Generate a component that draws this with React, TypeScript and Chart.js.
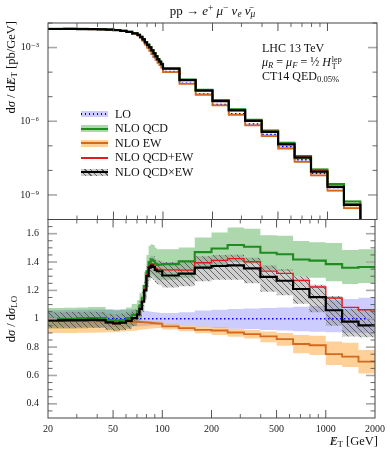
import React, { useEffect, useRef } from 'react';
import { Chart, registerables } from 'chart.js';

Chart.register(...registerables);

// ---------- data ----------
const BIN_EDGES = [20, 25, 30, 35, 40, 45, 50, 55, 60, 65, 70, 72.5, 75, 77.5, 80, 82.5, 85, 87.5, 90, 92.5, 95, 97.5, 100, 126, 158, 200, 251, 316, 398, 501, 631, 794, 1000, 1259, 1585, 2000];

// LO differential cross section [pb/GeV]
const LO_XSEC = [5.78e-3, 5.77e-3, 5.74e-3, 5.68e-3, 5.58e-3, 5.49e-3, 5.28e-3, 4.88e-3, 4.39e-3, 3.74e-3, 3.17e-3, 2.53e-3, 1.92e-3, 1.35e-3, 9.9e-4, 7.49e-4, 5.6e-4, 4.27e-4, 3.27e-4, 2.49e-4, 1.98e-4, 1.57e-4,
  1.05e-4, 3.56e-5, 1.3e-5, 4.83e-6, 2.0e-6, 7.64e-7, 2.86e-7, 9.1e-8, 2.71e-8, 7.7e-9, 2.0e-9, 4.0e-10, 5e-11];

// ratios to LO
const LO_RATIO = [1, 1, 1, 1, 1, 1, 1, 1, 1, 1, 1, 1, 1, 1, 1, 1, 1, 1, 1, 1, 1, 1, 1, 1, 1, 1, 1, 1, 1, 1, 1, 1, 1, 1, 1];
const LO_UP = [1.06, 1.062, 1.064, 1.065, 1.066, 1.066, 1.066, 1.066, 1.065, 1.064, 1.062, 1.06, 1.058, 1.056, 1.054, 1.052, 1.05, 1.048, 1.046, 1.044, 1.042, 1.04,
  1.04, 1.045, 1.058, 1.064, 1.068, 1.072, 1.076, 1.08, 1.085, 1.09, 1.13, 1.14, 1.148];
const LO_DN = [0.945, 0.944, 0.943, 0.942, 0.942, 0.942, 0.942, 0.943, 0.944, 0.945, 0.946, 0.947, 0.948, 0.95, 0.951, 0.952, 0.953, 0.954, 0.955, 0.956, 0.957, 0.958,
  0.957, 0.953, 0.943, 0.936, 0.93, 0.926, 0.921, 0.917, 0.912, 0.908, 0.905, 0.902, 0.9];

const QCD_RATIO = [1.0, 1.0, 1.003, 1.005, 1.005, 0.99, 0.985, 0.99, 1.005, 1.027, 1.053, 1.095, 1.148, 1.231, 1.335, 1.4, 1.418, 1.409, 1.389, 1.38, 1.382, 1.383,
  1.385, 1.405, 1.47, 1.495, 1.52, 1.508, 1.465, 1.455, 1.418, 1.41, 1.385, 1.36, 1.365];
const QCD_UP = [1.075, 1.077, 1.08, 1.082, 1.082, 1.066, 1.06, 1.066, 1.08, 1.104, 1.13, 1.18, 1.24, 1.33, 1.45, 1.515, 1.525, 1.52, 1.5, 1.49, 1.49, 1.49,
  1.49, 1.502, 1.573, 1.608, 1.644, 1.635, 1.589, 1.585, 1.549, 1.54, 1.535, 1.485, 1.49];
const QCD_DN = [0.93, 0.93, 0.932, 0.934, 0.934, 0.92, 0.915, 0.92, 0.93, 0.95, 0.97, 1.01, 1.06, 1.14, 1.24, 1.29, 1.31, 1.3, 1.285, 1.275, 1.275, 1.275,
  1.275, 1.29, 1.35, 1.375, 1.4, 1.39, 1.345, 1.335, 1.3, 1.29, 1.265, 1.245, 1.253];

const EW_RATIO = [0.983, 0.983, 0.983, 0.982, 0.982, 0.981, 0.981, 0.98, 0.98, 0.979, 0.978, 0.977, 0.976, 0.975, 0.974, 0.972, 0.97, 0.969, 0.968, 0.967, 0.966, 0.965,
  0.946, 0.934, 0.922, 0.917, 0.903, 0.891, 0.875, 0.856, 0.822, 0.813, 0.751, 0.733, 0.697];
const EW_UP = [1.0, 1.0, 1.0, 0.999, 0.998, 0.997, 0.996, 0.995, 0.994, 0.992, 0.99, 0.989, 0.988, 0.987, 0.986, 0.985, 0.984, 0.983, 0.982, 0.981, 0.98, 0.978,
  0.965, 0.955, 0.945, 0.941, 0.93, 0.92, 0.91, 0.9, 0.886, 0.88, 0.84, 0.83, 0.78];
const EW_DN = [0.9, 0.9, 0.901, 0.902, 0.903, 0.905, 0.907, 0.91, 0.913, 0.916, 0.92, 0.922, 0.924, 0.926, 0.928, 0.93, 0.931, 0.932, 0.933, 0.934, 0.934, 0.935,
  0.925, 0.912, 0.898, 0.886, 0.873, 0.86, 0.835, 0.81, 0.756, 0.745, 0.673, 0.66, 0.614];

const SUM_RATIO = [0.983, 0.983, 0.986, 0.987, 0.987, 0.971, 0.966, 0.97, 0.983, 1.004, 1.028, 1.072, 1.126, 1.21, 1.314, 1.372, 1.388, 1.378, 1.357, 1.347, 1.348, 1.348,
  1.345, 1.343, 1.395, 1.412, 1.424, 1.402, 1.336, 1.32, 1.27, 1.224, 1.146, 1.08, 1.064];

const PROD_RATIO = [0.988, 0.99, 0.99, 0.992, 0.99, 0.975, 0.968, 0.972, 0.985, 1.005, 1.03, 1.07, 1.12, 1.2, 1.3, 1.36, 1.375, 1.365, 1.345, 1.335, 1.335, 1.335,
  1.305, 1.318, 1.36, 1.372, 1.376, 1.355, 1.295, 1.268, 1.21, 1.153, 1.06, 0.98, 0.953];
const PROD_UP = [1.045, 1.047, 1.048, 1.05, 1.048, 1.035, 1.03, 1.035, 1.045, 1.065, 1.09, 1.135, 1.19, 1.27, 1.37, 1.43, 1.445, 1.44, 1.42, 1.41, 1.41, 1.405,
  1.4, 1.41, 1.44, 1.45, 1.452, 1.43, 1.375, 1.35, 1.3, 1.24, 1.16, 1.07, 1.064];
const PROD_DN = [0.935, 0.935, 0.936, 0.937, 0.936, 0.922, 0.915, 0.92, 0.93, 0.948, 0.97, 1.005, 1.05, 1.13, 1.22, 1.27, 1.285, 1.275, 1.255, 1.245, 1.24, 1.235,
  1.22, 1.23, 1.265, 1.275, 1.275, 1.25, 1.19, 1.165, 1.105, 1.045, 0.95, 0.875, 0.87];

// axes
const X_TICKS = [20, 50, 100, 200, 500, 1000, 2000];
const X_TICK_LABELS = ['20', '50', '100', '200', '500', '1000', '2000'];
const X_MAJOR = [50, 100, 200, 500, 1000];
const X_MINOR = [30, 40, 60, 70, 80, 90, 300, 400, 600, 700, 800, 900];
const TOP_TICKS = [1e-9, 1e-6, 1e-3];
const TOP_TICK_LABELS = ['10⁻⁹', '10⁻⁶', '10⁻³'];
const TOP_EXP = [-10, -9, -8, -7, -6, -5, -4, -3, -2];
const RATIO_TICKS = [0.4, 0.6, 0.8, 1, 1.2, 1.4, 1.6];
const RATIO_TICK_LABELS = ['0.4', '0.6', '0.8', '1', '1.2', '1.4', '1.6'];
const RATIO_MINOR = [0.35, 0.45, 0.5, 0.55, 0.65, 0.7, 0.75, 0.85, 0.9, 0.95, 1.05, 1.1, 1.15, 1.25, 1.3, 1.35, 1.45, 1.5, 1.55, 1.65];

const COLORS = {
  lo: '#0000ff', loBand: 'rgba(0,0,255,0.2)',
  qcd: '#1f8c1f', qcdBand: 'rgba(40,150,40,0.38)',
  ew: '#d2691e', ewBand: 'rgba(255,140,0,0.4)',
  sum: '#e41a1c', prod: '#000000',
};

const FONT = '"Liberation Serif", "DejaVu Serif", serif';

// ---------- helpers ----------
function hist(vals: number[], scale?: number[]) {
  const pts = vals.map((v, i) => ({ x: BIN_EDGES[i], y: scale ? v * scale[i] : v }));
  pts.push({ x: BIN_EDGES[BIN_EDGES.length - 1], y: pts[pts.length - 1].y });
  return pts;
}

function makeHatch(): any {
  const c = document.createElement('canvas');
  c.width = 6; c.height = 6;
  const g = c.getContext('2d');
  if (!g) return 'rgba(150,150,150,0.4)';
  g.fillStyle = 'rgba(140,140,140,0.42)';
  g.fillRect(0, 0, 6, 6);
  g.strokeStyle = 'rgba(70,70,70,0.85)';
  g.lineWidth = 0.9;
  g.beginPath();
  g.moveTo(-1, -1); g.lineTo(7, 7);
  g.moveTo(-1, 5); g.lineTo(1, 7);
  g.moveTo(5, -1); g.lineTo(7, 1);
  g.stroke();
  return g.createPattern(c, 'repeat');
}

function buildDatasets(top: boolean, hatch: any) {
  const s = top ? LO_XSEC : undefined;
  const band = (lo: number[], up: number[], color: any, order: number) => [
    { data: hist(lo, s), borderWidth: 0, borderColor: 'rgba(0,0,0,0)', pointRadius: 0, fill: false, stepped: true, order, backgroundColor: color },
    { data: hist(up, s), borderWidth: 0, borderColor: 'rgba(0,0,0,0)', pointRadius: 0, fill: '-1', stepped: true, order, backgroundColor: color },
  ];
  const line = (vals: number[], color: string, width: number, order: number, dash: number[] = []) => ({
    data: hist(vals, s), borderColor: color, borderWidth: width, borderDash: dash, pointRadius: 0, fill: false, stepped: true, order,
    borderCapStyle: 'butt', borderJoinStyle: 'miter',
  });
  return [
    ...band(LO_DN, LO_UP, COLORS.loBand, 14),
    ...band(QCD_DN, QCD_UP, COLORS.qcdBand, 13),
    ...band(EW_DN, EW_UP, COLORS.ewBand, 12),
    ...band(PROD_DN, PROD_UP, hatch, 11),
    line(LO_RATIO, COLORS.lo, 1.5, 5, [1.5, 2.5]),
    line(EW_RATIO, COLORS.ew, 1.8, 4),
    line(QCD_RATIO, COLORS.qcd, 2.1, 3),
    line(SUM_RATIO, COLORS.sum, 1.4, 2),
    line(PROD_RATIO, COLORS.prod, 2.2, 1),
  ];
}

function seg(ctx: CanvasRenderingContext2D, x1: number, y1: number, x2: number, y2: number, color: string, w: number) {
  ctx.beginPath();
  ctx.strokeStyle = color;
  ctx.lineWidth = w;
  ctx.moveTo(x1, y1);
  ctx.lineTo(x2, y2);
  ctx.stroke();
}

function framePlugin(kind: 'top' | 'bottom') {
  return {
    id: 'frame_' + kind,
    afterDraw(chart: any) {
      const { ctx, chartArea: a, scales } = chart;
      const xs = scales.x, ys = scales.y;
      ctx.save();
      X_MAJOR.forEach((v) => {
        const p = xs.getPixelForValue(v);
        seg(ctx, p, a.bottom, p, a.bottom - 8, '#555', 1);
        seg(ctx, p, a.top, p, a.top + 8, '#555', 1);
      });
      X_MINOR.forEach((v) => {
        const p = xs.getPixelForValue(v);
        seg(ctx, p, a.bottom, p, a.bottom - 4, '#555', 0.9);
        seg(ctx, p, a.top, p, a.top + 4, '#555', 0.9);
      });
      const majors = kind === 'top' ? TOP_TICKS : RATIO_TICKS;
      const minors = kind === 'top' ? TOP_EXP.map((e) => Math.pow(10, e)).filter((v) => !TOP_TICKS.some((t) => Math.abs(Math.log10(t) - Math.log10(v)) < 1e-6)) : RATIO_MINOR;
      majors.forEach((v) => {
        const p = ys.getPixelForValue(v);
        seg(ctx, a.left, p, a.left + 9, p, '#a8a8a8', 1.6);
        seg(ctx, a.right, p, a.right - 9, p, '#a8a8a8', 1.6);
      });
      minors.forEach((v) => {
        const p = ys.getPixelForValue(v);
        seg(ctx, a.left, p, a.left + 4.5, p, '#555', 0.9);
        seg(ctx, a.right, p, a.right - 4.5, p, '#555', 0.9);
      });
      ctx.strokeStyle = '#444';
      ctx.lineWidth = 1;
      ctx.strokeRect(a.left, a.top, a.right - a.left, a.bottom - a.top);
      ctx.restore();
    },
  };
}

const baseOptions: any = {
  responsive: false,
  animation: false,
  devicePixelRatio: 1,
  events: [],
  plugins: { legend: { display: false }, tooltip: { enabled: false } },
  elements: { line: { tension: 0 }, point: { radius: 0 } },
};

const TOP_AREA = { top: 23, sep: 219.5, bottom: 418, left: 48, right: 377 };

// ---------- text pieces ----------
const Sub = ({ children }: any) => <span style={{ fontSize: '0.72em', verticalAlign: '-0.25em', lineHeight: 0 }}>{children}</span>;
const Sup = ({ children }: any) => <span style={{ fontSize: '0.72em', verticalAlign: '0.45em', lineHeight: 0 }}>{children}</span>;
const MissE = () => (
  <span style={{ position: 'relative', fontStyle: 'italic', display: 'inline-block' }}>
    E<span style={{ position: 'absolute', left: '0.14em', top: 0, fontStyle: 'normal' }}>/</span>
  </span>
);

const LEGEND_LABELS = ['LO', 'NLO QCD', 'NLO EW', 'NLO QCD+EW', 'NLO QCD×EW'];

function LegendSymbol({ i }: { i: number }) {
  const box: any = { position: 'absolute', left: 0, width: 27 };
  if (i === 0) return (<>
    <div style={{ ...box, top: -3, height: 6, background: COLORS.loBand }} />
    <div style={{ ...box, top: -0.75, height: 1.5, background: `repeating-linear-gradient(90deg, ${COLORS.lo} 0 1.5px, transparent 1.5px 4px)` }} />
  </>);
  if (i === 1) return (<>
    <div style={{ ...box, top: -3.5, height: 7, background: COLORS.qcdBand }} />
    <div style={{ ...box, top: -1, height: 2.2, background: COLORS.qcd }} />
  </>);
  if (i === 2) return (<>
    <div style={{ ...box, top: -3.5, height: 7, background: COLORS.ewBand }} />
    <div style={{ ...box, top: -1, height: 2, background: COLORS.ew }} />
  </>);
  if (i === 3) return <div style={{ ...box, top: -1, height: 2, backgroundColor: COLORS.sum }} />;
  return (<>
    <div style={{ ...box, top: -3.5, height: 7, background: 'repeating-linear-gradient(45deg, rgba(140,140,140,0.42) 0 3px, rgba(70,70,70,0.85) 3px 4px)' }} />
    <div style={{ ...box, top: -1.1, height: 2.3, background: COLORS.prod }} />
  </>);
}

export default function App() {
  const topRef = useRef<HTMLCanvasElement>(null);
  const botRef = useRef<HTMLCanvasElement>(null);

  useEffect(() => {
    const hatch = makeHatch();
    const tickFont = { family: FONT, size: 10 };
    const topChart = new Chart(topRef.current as HTMLCanvasElement, {
      type: 'line',
      data: { datasets: buildDatasets(true, hatch) as any },
      options: {
        ...baseOptions,
        layout: { padding: { left: 0, right: 390 - TOP_AREA.right, top: TOP_AREA.top, bottom: 451 - TOP_AREA.sep } },
        scales: {
          x: { type: 'logarithmic', min: 20, max: 2000, display: false },
          y: {
            type: 'logarithmic', min: 1e-10, max: 1e-2, position: 'left',
            afterFit: (sc: any) => { sc.width = TOP_AREA.left; },
            afterBuildTicks: (sc: any) => { sc.ticks = TOP_TICKS.map((v) => ({ value: v })); },
            grid: { display: false, drawTicks: false },
            border: { display: false },
            ticks: { callback: (_v: any, i: number) => TOP_TICK_LABELS[i], font: tickFont, color: '#222', padding: 9, autoSkip: false },
          },
        },
      } as any,
      plugins: [framePlugin('top')],
    });
    const botChart = new Chart(botRef.current as HTMLCanvasElement, {
      type: 'line',
      data: { datasets: buildDatasets(false, hatch) as any },
      options: {
        ...baseOptions,
        layout: { padding: { left: 0, right: 390 - TOP_AREA.right, top: TOP_AREA.sep, bottom: 0 } },
        scales: {
          x: {
            type: 'logarithmic', min: 20, max: 2000, position: 'bottom',
            afterFit: (sc: any) => { sc.height = 451 - TOP_AREA.bottom; },
            afterBuildTicks: (sc: any) => { sc.ticks = X_TICKS.map((v) => ({ value: v })); },
            grid: { display: false, drawTicks: false },
            border: { display: false },
            ticks: { callback: (_v: any, i: number) => X_TICK_LABELS[i], font: tickFont, color: '#222', padding: 5, autoSkip: false, maxRotation: 0 },
          },
          y: {
            type: 'linear', min: 0.3, max: 1.7, position: 'left',
            afterFit: (sc: any) => { sc.width = TOP_AREA.left; },
            afterBuildTicks: (sc: any) => { sc.ticks = RATIO_TICKS.map((v) => ({ value: v })); },
            grid: { display: false, drawTicks: false },
            border: { display: false },
            ticks: { callback: (_v: any, i: number) => RATIO_TICK_LABELS[i], font: tickFont, color: '#222', padding: 9, autoSkip: false },
          },
        },
      } as any,
      plugins: [framePlugin('bottom')],
    });
    return () => { topChart.destroy(); botChart.destroy(); };
  }, []);

  const canvasStyle: any = { position: 'absolute', left: 0, top: 0, display: 'block' };
  const txt: any = { position: 'absolute', fontFamily: FONT, color: '#111', whiteSpace: 'nowrap' };

  return (
    <div style={{ position: 'absolute', left: 0, top: 0, width: 390, height: 451, background: '#fff', overflow: 'hidden' }}>
      <canvas ref={topRef} width={390} height={451} style={canvasStyle} />
      <canvas ref={botRef} width={390} height={451} style={canvasStyle} />

      {/* title */}
      <div style={{ ...txt, left: 0, width: 425, top: 3, textAlign: 'center', fontSize: 13, lineHeight: '16px' }}>
        pp → <i>e</i><Sup>+</Sup> <i>μ</i><Sup>−</Sup> <i>ν</i><Sub><i>e</i></Sub> <i>ν̄</i><Sub><i>μ</i></Sub>
      </div>

      {/* annotation */}
      <div style={{ ...txt, left: 262, top: 42, fontSize: 12, lineHeight: '13.5px' }}>
        <div>LHC 13 TeV</div>
        <div><i>μ</i><Sub><i>R</i></Sub> = <i>μ</i><Sub><i>F</i></Sub> = ½ <i>H</i>
          <span style={{ display: 'inline-flex', flexDirection: 'column', fontSize: 8, lineHeight: '7px', verticalAlign: '4px', marginLeft: 1 }}><span>lep</span><span>T</span></span>
        </div>
        <div>CT14 QED<Sub>0.05%</Sub></div>
      </div>

      {/* legend */}
      {LEGEND_LABELS.map((lab, i) => {
        const cy = 114 + i * 14.5;
        return (
          <div key={lab}>
            <div style={{ position: 'absolute', left: 81, top: cy, width: 27, height: 0 }}>
              <LegendSymbol i={i} />
            </div>
            <div style={{ ...txt, left: 115, top: cy - 7.5, fontSize: 12, lineHeight: '15px' }}>{lab}</div>
          </div>
        );
      })}

      {/* y title top */}
      <div style={{ position: 'absolute', left: 0, top: TOP_AREA.top - 2, width: 22, height: 196 }}>
        <div style={{ ...txt, left: 0, top: 0, width: 196, height: 22, lineHeight: '22px', fontSize: 12.5, textAlign: 'right', transformOrigin: '0 0', transform: 'translate(0px, 196px) rotate(-90deg)' }}>
          d<i>σ</i> / d<MissE /><Sub>T</Sub> [pb/GeV]
        </div>
      </div>

      {/* y title bottom */}
      <div style={{ position: 'absolute', left: 0, top: TOP_AREA.sep, width: 22, height: 198 }}>
        <div style={{ ...txt, left: 0, top: 0, width: 198, height: 22, lineHeight: '22px', fontSize: 12.5, textAlign: 'center', transformOrigin: '0 0', transform: 'translate(0px, 198px) rotate(-90deg)' }}>
          d<i>σ</i> / d<i>σ</i><Sub>LO</Sub>
        </div>
      </div>

      {/* x title */}
      <div style={{ ...txt, right: 390 - TOP_AREA.right - 1, top: 434, fontSize: 12.5, lineHeight: '15px' }}>
        <MissE /><Sub>T</Sub> [GeV]
      </div>
    </div>
  );
}
